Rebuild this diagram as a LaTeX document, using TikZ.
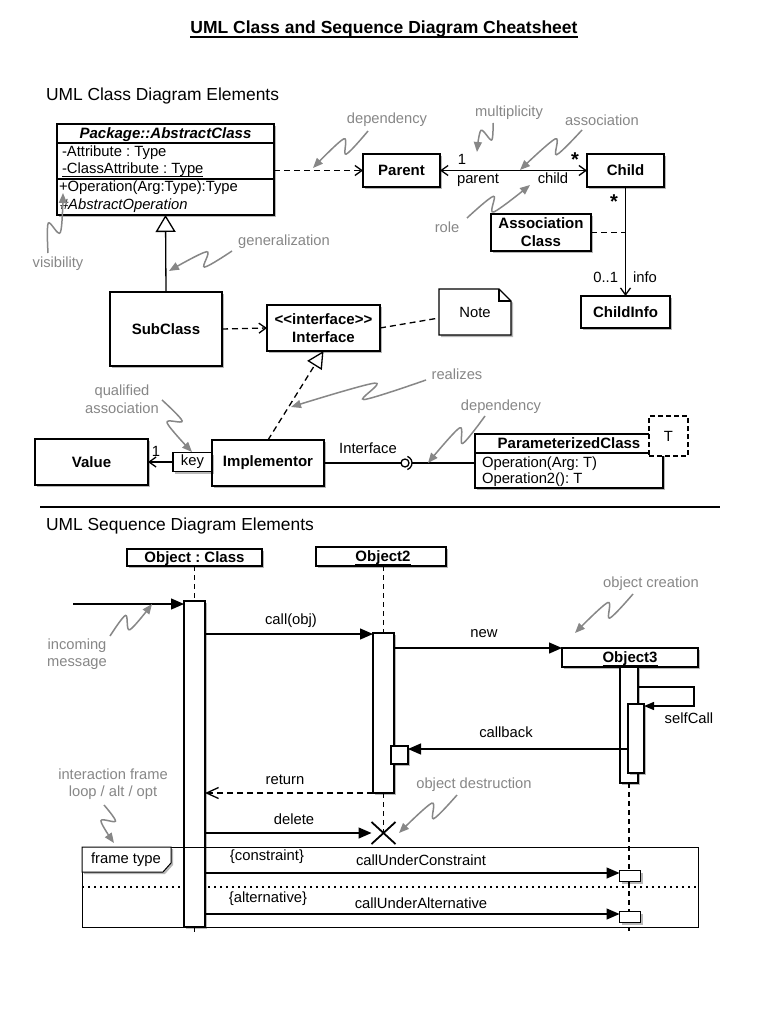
\documentclass[tikz,border=0pt]{standalone}
\usepackage{fontspec}
\setmainfont{Liberation Sans}
\usetikzlibrary{arrows.meta,calc,shadows,shapes.misc}
\pgfdeclarelayer{bg}
\pgfsetlayers{bg,main}
\definecolor{anngray}{RGB}{135,135,135}
\frenchspacing
\newcommand{\annsquig}[2]{%
  \coordinate (#1qa) at ($(#1)!0.47!(#2)!7pt!90:(#2)$);
  \coordinate (#1qb) at ($(#1)!0.37!(#2)!7pt!-90:(#2)$);
  \draw[annline] plot[smooth,tension=0.55] coordinates {(#1) (#1qa) (#1qb) (#2)};}
\begin{document}
\frenchspacing
\begin{tikzpicture}[x=1pt,y=-1pt,
  every node/.style={inner sep=0pt,outer sep=0pt},
  txt/.style={font=\fontsize{14.8}{17.5}\selectfont},
  btxt/.style={font=\fontsize{15}{18}\selectfont\bfseries},
  ann/.style={font=\fontsize{14.7}{17.5}\selectfont,text=anngray,align=center},
  shad/.style={drop shadow={shadow xshift=2pt,shadow yshift=-2pt,opacity=0.28,fill=black}},
  box/.style={draw,line width=1.3pt,fill=white,shad},
  conn/.style={line width=1.3pt},
  dashln/.style={dash pattern=on 6pt off 4pt},
  openarr/.style={-{Straight Barb[length=7pt,width=10pt]}},
  dep/.style={conn,dashln,openarr},
  annline/.style={draw=anngray,line width=1.5pt,-{Triangle[length=10pt,width=8pt]}},
  msg/.style={conn,-{Triangle[length=13pt,width=11pt]}},
  life/.style={line width=1.3pt,dash pattern=on 5pt off 4pt},
  ulin/.style={line width=1pt},
]
\begin{pgfonlayer}{bg}
\fill[white] (0,0) rectangle (768,1024);
\end{pgfonlayer}
\useasboundingbox (0,0) rectangle (768,1024);

% ---------- title ----------
\node[font=\fontsize{17.5}{21}\selectfont\bfseries,anchor=base] (title) at (384,34) {UML Class and Sequence Diagram Cheatsheet};
\draw[line width=1.6pt] ($(title.base west)+(0,3)$) -- ($(title.base east)+(0,3)$);
\node[font=\fontsize{17.4}{21}\selectfont,anchor=base west] (h1) at (46,101) {UML Class Diagram Elements};

% ---------- abstract class ----------
\node[box,minimum width=217,minimum height=91] (abs) at (165.5,169.5) {};
\coordinate (absl1) at (0,143);
\coordinate (absl2) at (0,179);
\draw[conn] (abs.west |- absl1) -- (abs.east |- absl1);
\draw[conn] (abs.west |- absl2) -- (abs.east |- absl2);
\node[font=\fontsize{15}{18}\selectfont\bfseries\itshape,anchor=base] (absname) at (165.5,139) {Package::AbstractClass};
\node[txt,anchor=base west] (attr1) at (62,157) {-Attribute : Type};
\node[txt,anchor=base west] (attr2) at (62,174) {-ClassAttribute : Type};
\draw[ulin] ($(attr2.base west)+(0,3)$) -- ($(attr2.base east)+(0,3)$);
\node[txt,anchor=base west] (op1) at (59,192) {+Operation(Arg:Type):Type};
\node[txt,anchor=base west] (op2) at (60,210) {\itshape\#AbstractOperation};

% ---------- parent / child ----------
\node[box,btxt,minimum width=77,minimum height=33] (parent) at (401.5,170.5) {Parent};
\node[box,btxt,minimum width=77,minimum height=33] (child) at (625.5,170.5) {Child};
\draw[conn,{Straight Barb[length=7pt,width=10pt]}-{Straight Barb[length=7pt,width=10pt]}] (parent) -- (child);
\node[txt,anchor=base] (m1) at (462,165) {1};
\node[txt,anchor=base] (rparent) at (478,184) {parent};
\node[txt,anchor=base] (rchild) at (553,184) {child};
\node[font=\fontsize{20}{20}\selectfont\bfseries,anchor=base] (mstar1) at (575,167) {*};
\draw[dep] (abs.east |- parent.west) -- (parent.west);

\node[box,btxt,align=center,minimum width=100,minimum height=37] (ac) at (541,232.5) {Association\\Class};
\node[box,btxt,minimum width=89,minimum height=32] (cinfo) at (625.5,312) {ChildInfo};
\draw[conn,openarr] (child) -- (cinfo);
\draw[conn,dashln] (ac.east) -- (ac.east -| child.south);
\node[font=\fontsize{20}{20}\selectfont\bfseries,anchor=base] (mstar2) at (614,209) {*};
\node[txt,anchor=base east] (m01) at (618,282) {0..1};
\node[txt,anchor=base west] (rinfo) at (633,282) {info};

% ---------- subclass / interface / note ----------
\node[box,btxt,minimum width=112,minimum height=74] (sub) at (166,329) {SubClass};
\node[box,btxt,align=center,minimum width=113,minimum height=46] (iface) at (323.5,328) {<{}<interface>{}>\\Interface};
\draw[conn,-{Triangle[fill=white,length=17pt,width=20pt]}] (sub.north) -- (abs.south);
\draw[dep] (sub.east) -- (iface.west);
\node[minimum width=72,minimum height=46] (note) at (475,312) {};
\path[draw,line width=1.3pt,fill=white,shad] (note.south west) -- (note.south east) -- ($(note.north east)+(0,12)$) -- ($(note.north east)+(-12,0)$) -- (note.north west) -- cycle;
\draw[line width=1.1pt] ($(note.north east)+(-12,0)$) -- ($(note.north east)+(-12,12)$) -- ($(note.north east)+(0,12)$);
\node[txt] (notelabel) at (note.center) {Note};
\draw[conn,dashln] (iface.east) -- ($(note.west)+(0,6)$);

% ---------- value / implementor ----------
\node[box,btxt,minimum width=113,minimum height=46] (value) at (91.5,462) {Value};
\node[box,btxt,minimum width=112,minimum height=46] (impl) at (268,463) {Implementor};
\node[box,txt,minimum width=39,minimum height=19] (key) at (192.5,462) {key};
\draw[conn,openarr] (key.west) -- (value.east |- key.west);
\node[txt] (mval) at (156,451) {1};
\draw[conn,dashln,-{Triangle[fill=white,length=17pt,width=17pt]}] (impl.north) -- (iface.south);

\node[circle,draw,line width=1.3pt,fill=white,minimum size=8] (ball) at (405,463) {};
\coordinate (sock) at (412,463);
\draw[conn] (impl.east |- ball) -- (ball.west);
\draw[conn] ($(ball)+(-70:7)$) arc[start angle=-70,end angle=70,radius=7];
\node[txt,anchor=base] (liface) at (368,453) {Interface};

\node[box,minimum width=188,minimum height=54] (pc) at (569,461) {};
\draw[conn] (sock) -- (pc.west |- sock);
\coordinate (pcl) at (0,453);
\draw[conn] (pc.west |- pcl) -- (pc.east |- pcl);
\node[btxt] (pcname) at (569,443) {ParameterizedClass};
\node[txt,anchor=base west] (pcop1) at (482,467) {Operation(Arg: T)};
\node[txt,anchor=base west] (pcop2) at (482,483) {Operation2(): T};
\node[draw,line width=1.3pt,dash pattern=on 5pt off 3pt,fill=white,txt,minimum width=39,minimum height=40] (tpar) at (668.5,436) {T};

% ---------- class annotations ----------
\node[ann] (adep1) at (387,120) {dependency};
\coordinate (s1) at (368,131); \coordinate (e1) at (313,168);
\annsquig{s1}{e1}
\node[ann] (amult) at (509,113) {multiplicity};
\coordinate (s2) at (493,123); \coordinate (e2) at (477,152);
\annsquig{s2}{e2}
\node[ann] (aassoc) at (602,120) {association};
\coordinate (s3) at (582,130); \coordinate (e3) at (520,170);
\annsquig{s3}{e3}
\node[ann] (arole) at (447,227) {role};
\coordinate (s4) at (467,218); \coordinate (e4) at (530,185);
\annsquig{s4}{e4}
\node[ann] (avis) at (58,264) {visibility};
\coordinate (s5) at (48,253); \coordinate (e5) at (63,193);
\annsquig{s5}{e5}
\node[ann] (agen) at (284,242) {generalization};
\coordinate (s6) at (232,251); \coordinate (e6) at (169,271);
\annsquig{s6}{e6}
\node[ann] (aqual) at (122,399) {qualified\\association};
\coordinate (s7) at (162,400); \coordinate (e7) at (192,452);
\annsquig{s7}{e7}
\node[ann] (areal) at (457,374) {realizes};
\coordinate (s8) at (426,380); \coordinate (e8) at (291,407);
\annsquig{s8}{e8}
\node[ann] (adep2) at (501,407) {dependency};
\coordinate (s9) at (485,416); \coordinate (e9) at (428,463);
\annsquig{s9}{e9}

% ---------- separator ----------
\draw[line width=2pt] (40,507) -- (720,507);

% ---------- sequence diagram ----------
\node[font=\fontsize{17.4}{21}\selectfont,anchor=base west] (h2) at (46,530) {UML Sequence Diagram Elements};
\node[box,minimum width=135,minimum height=17] (o1) at (194.5,557.5) {};
\node[btxt,anchor=base] (o1t) at (194.5,562) {Object : Class};
\draw[ulin] ($(o1t.base west)+(0,3)$) -- ($(o1t.base east)+(0,3)$);
\node[box,minimum width=130,minimum height=19] (o2) at (381,556.5) {};
\node[btxt,anchor=base] (o2t) at (383,561.5) {Object2};
\draw[ulin] ($(o2t.base west)+(0,3)$) -- ($(o2t.base east)+(0,3)$);
\node[box,minimum width=21,minimum height=326] (act1) at (194.5,764) {};
\node[box,minimum width=21,minimum height=160] (act2) at (383.5,713) {};
\node[box,minimum width=17,minimum height=18] (cb) at (399.5,755) {};
\node[box,minimum width=136,minimum height=19] (o3) at (630,657.5) {};
\node[btxt,anchor=base] (o3t) at (630,662) {Object3};
\draw[ulin] ($(o3t.base west)+(0,3)$) -- ($(o3t.base east)+(0,3)$);
\node[box,minimum width=18,minimum height=116] (act3) at (629,725) {};
\node[box,minimum width=16,minimum height=69] (act3b) at (636,738.5) {};
\node[box,minimum width=21,minimum height=11] (c1) at (630,876) {};
\node[box,minimum width=21,minimum height=11] (c2) at (630,917) {};
\node[cross out,draw,line width=1.8pt,minimum width=24,minimum height=22] (xdel) at (383.5,833) {};
\coordinate (l1end) at (194.5,933);
\coordinate (l3end) at (629,931);
\node[draw,line width=1pt,minimum width=616,minimum height=80] (frame) at (390,887) {};
\begin{pgfonlayer}{bg}
\draw[life] (o1.south) -- (act1.north);
\draw[life] (act1.south) -- (l1end);
\draw[life] (act2.north |- o2.south) -- (act2.north);
\draw[life] (act2.south) -- (xdel.center);
\draw[life] (act3.south) -- (l3end);
\draw[line width=1.3pt,dash pattern=on 1.5pt off 4.5pt] (frame.west) -- (frame.east);
\end{pgfonlayer}
\path[draw,line width=1pt,fill=white,shad] (frame.north west) -- ++(89,0) -- ++(0,16) -- ++(-8,9) -- ++(-81,0) -- cycle;
\node[txt] (ftype) at (126,860) {frame type};

\coordinate (inc) at (73,604);
\draw[msg] (inc) -- (inc -| act1.west);
\coordinate (ycall) at (0,634);
\draw[msg] (act1.east |- ycall) -- (act2.west |- ycall);
\node[txt] (lcall) at (291,621) {call(obj)};
\draw[msg] (act2.east |- o3.north west) -- (o3.north west);
\node[txt] (lnew) at (484,634) {new};
\coordinate (sc1) at (694,687);
\coordinate (sc2) at (694,706);
\draw[conn,-{Triangle[length=10pt,width=8pt]}] (act3.east |- sc1) -- (sc1) -- (sc2) -- (act3b.east |- sc2);
\node[txt] (lself) at (689,718) {selfCall};
\coordinate (ycb) at (0,749);
\draw[msg] (act3b.west |- ycb) -- (cb.east |- ycb);
\node[txt] (lcb) at (506,732) {callback};
\draw[conn,dashln,-{Straight Barb[length=12pt,width=11pt]}] (act2.south west) -- (act2.south west -| act1.east);
\node[txt] (lret) at (285,780) {return};
\draw[msg] (act1.east |- xdel) -- (xdel.west);
\node[txt] (ldel) at (294,819) {delete};
\coordinate (yc1) at (0,873);
\draw[msg] (act1.east |- yc1) -- (c1.west |- yc1);
\node[txt] (lcons) at (267,857) {\{constraint\}};
\node[txt] (lcuc) at (421,860) {callUnderConstraint};
\coordinate (yc2) at (0,914);
\draw[msg] (act1.east |- yc2) -- (c2.west |- yc2);
\node[txt] (lalt) at (268,899) {\{alternative\}};
\node[txt] (lcua) at (421,903) {callUnderAlternative};

% ---------- sequence annotations ----------
\node[ann] (aocre) at (651,584) {object creation};
\coordinate (s10) at (633,594); \coordinate (e10) at (575,633);
\annsquig{s10}{e10}
\node[ann] (ainc) at (77,654) {incoming\\message};
\coordinate (s11) at (110,636); \coordinate (e11) at (152,604);
\annsquig{s11}{e11}
\node[ann] (aifr) at (113,784) {interaction frame\\loop / alt / opt};
\coordinate (s12) at (104,805); \coordinate (e12) at (114,843);
\annsquig{s12}{e12}
\node[ann] (aodes) at (474,785) {object destruction};
\coordinate (s13) at (457,795); \coordinate (e13) at (399,833);
\annsquig{s13}{e13}
\end{tikzpicture}
\end{document}
